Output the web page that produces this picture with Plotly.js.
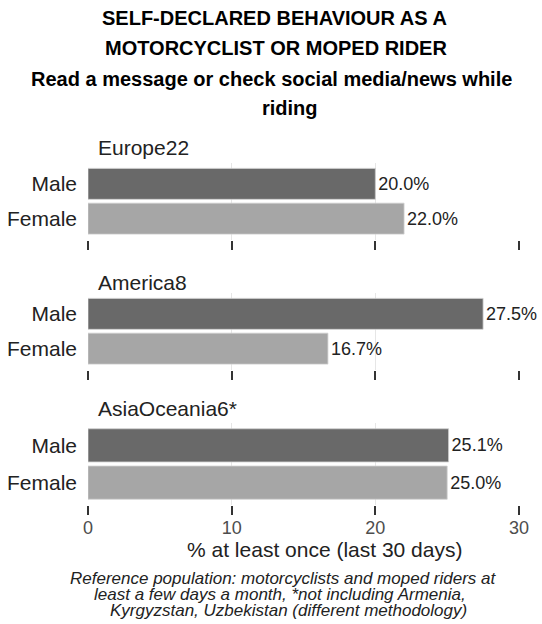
<!DOCTYPE html>
<html>
<head>
<meta charset="utf-8">
<script src="https://cdn.plot.ly/plotly-3.0.1.min.js"></script>
<style>html,body{margin:0;padding:0;background:#fff;}#chart{width:542px;height:624px;}</style>
</head>
<body>
<div id="chart"></div>
<script>
// ---- data ----
const regions = ["Europe22", "America8", "AsiaOceania6*"];
const genders = ["Male", "Female"];
const maleValues = [20.0, 27.5, 25.1];
const femaleValues = [22.0, 16.7, 25.0];
const xTicks = [0, 10, 20, 30];

const titleLines = ["SELF-DECLARED BEHAVIOUR AS A", "MOTORCYCLIST OR MOPED RIDER"];
const subtitleLines = ["Read a message or check social media/news while", "riding"];
const xTitle = "% at least once (last 30 days)";
const captionLines = [
  "Reference population: motorcyclists and moped riders at",
  "least a few days a month, *not including Armenia,",
  "Kyrgyzstan, Uzbekistan (different methodology)"
];

// ---- layout helpers ----
const W = 542, H = 624, L = 88, R = 23;
const FONT = "Liberation Sans, Arial, sans-serif";
const px = x => (x - L) / (W - L - R);
const py = y => 1 - y / H;
const panels = [[163, 239.5], [293, 369.5], [423, 505]];
const facetY = [147, 283, 408];
const colors = ["#696969", "#a6a6a6"];

const traces = [];
const layout = {
  width: W, height: H,
  margin: {l: L, r: R, t: 0, b: 0},
  paper_bgcolor: "#fff", plot_bgcolor: "#fff",
  showlegend: false,
  barmode: "group",
  bargap: 0.11,
  font: {family: FONT, color: "#222"},
  annotations: []
};

function note(text, x, y, size, color, extra) {
  layout.annotations.push(Object.assign({
    text: text, xref: "paper", yref: "paper",
    x: px(x), y: py(y), xanchor: "center", yanchor: "middle", showarrow: false,
    font: {size: size, color: color, family: FONT}
  }, extra || {}));
}

regions.forEach((reg, i) => {
  const sfx = i === 0 ? "" : String(i + 1);
  const vals = [maleValues[i], femaleValues[i]];
  genders.forEach((g, j) => {
    traces.push({
      type: "bar", orientation: "h",
      x: [vals[j]], y: [g],
      xaxis: "x" + sfx, yaxis: "y" + sfx,
      marker: {color: colors[j], line: {color: "#cfcfcf", width: 0.8}},
      width: 0.89,
      text: [vals[j].toFixed(1) + "%"],
      textposition: "outside",
      textfont: {size: 18, color: "#222", family: FONT},
      cliponaxis: false,
      hoverinfo: "skip"
    });
  });
  const p = panels[i];
  layout["xaxis" + sfx] = {
    domain: [0, 1], anchor: "y" + sfx, range: [0, 30],
    tickvals: xTicks, ticktext: xTicks.map(String),
    showgrid: true, gridcolor: "#e6e6e6", gridwidth: 1,
    zeroline: false, showline: false,
    ticks: "outside", ticklen: 9, tickwidth: 2, tickcolor: "#333",
    showticklabels: i === 2,
    ticklabelstandoff: -3,
    tickfont: {size: 18, color: "#4d4d4d", family: FONT},
    fixedrange: true
  };
  layout["yaxis" + sfx] = {
    domain: [py(p[1]), py(p[0])], anchor: "x" + sfx,
    type: "category", categoryorder: "array", categoryarray: ["Female", "Male"],
    range: [-0.6, 1.6],
    showgrid: false, zeroline: false, showline: false,
    ticks: "", ticklabelstandoff: 10,
    tickfont: {size: 21, color: "#222", family: FONT},
    fixedrange: true
  };
  note(reg, 96, facetY[i], 21, "#222", {xanchor: "left"});
});

// titles
note("<b>" + titleLines[0] + "</b>", 274, 18, 20, "#000");
note("<b>" + titleLines[1] + "</b>", 276, 48, 20, "#000");
note("<b>" + subtitleLines[0] + "</b>", 271, 79, 20, "#000");
note("<b>" + subtitleLines[1] + "</b>", 290, 108, 20, "#000");
// axis title
note(xTitle, 324.5, 549, 21, "#222");
// caption
const capX = [283, 280, 288.5];
const capY = [578, 594, 610];
captionLines.forEach((c, k) => note("<i>" + c + "</i>", capX[k], capY[k], 17, "#222"));

Plotly.newPlot("chart", traces, layout, {staticPlot: true, displayModeBar: false});
</script>
</body>
</html>
